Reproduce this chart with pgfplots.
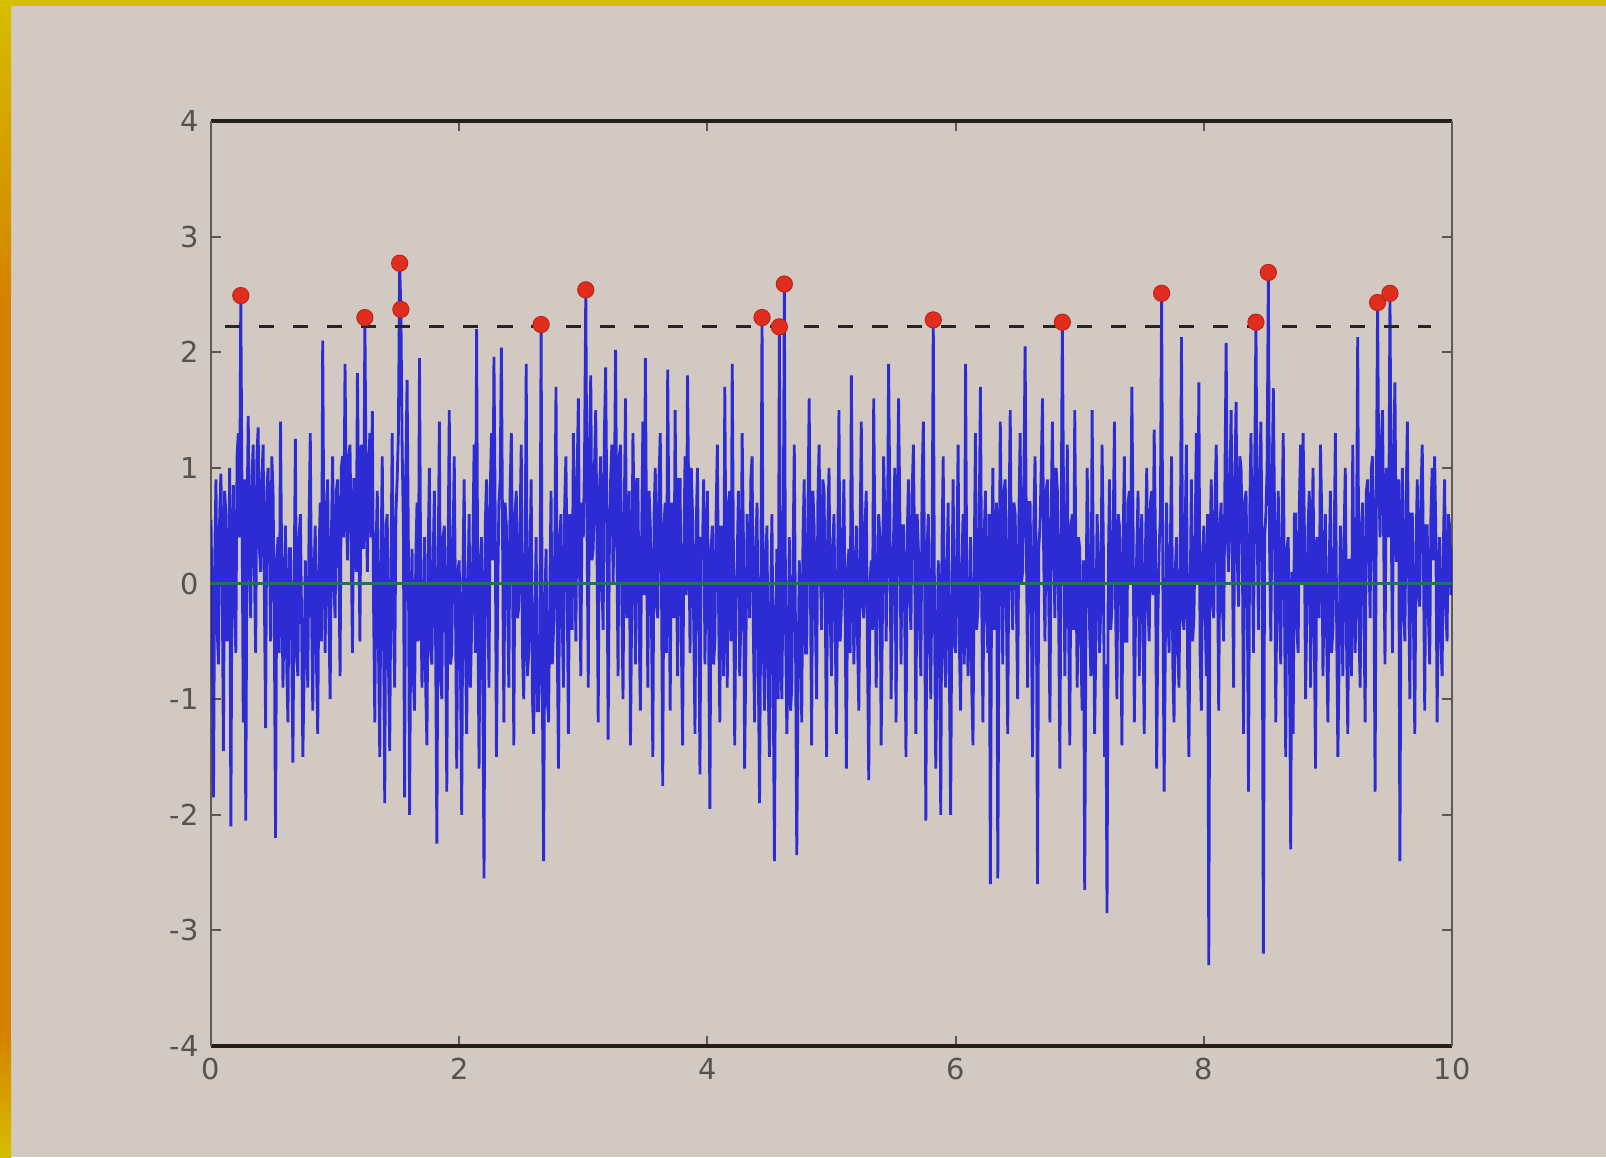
\documentclass[border=0pt]{standalone}
\usepackage{fontspec}
\setmainfont{DejaVu Sans}
\usepackage{pgfplots}
\usepackage{pgfplotstable}
\pgfplotsset{compat=1.18}
\definecolor{bg}{RGB}{209,201,194}
\definecolor{ylw}{RGB}{214,190,0}
\definecolor{org}{RGB}{214,130,0}
\definecolor{framec}{RGB}{35,32,28}
\definecolor{framey}{RGB}{95,90,85}
\definecolor{tickc}{RGB}{90,86,82}
\definecolor{labc}{RGB}{85,82,80}
\definecolor{sigc}{RGB}{22,22,215}
\definecolor{zeroc}{RGB}{30,115,95}
\definecolor{peakc}{RGB}{225,45,30}
\pgfplotstableread[row sep=\\]{
x y\\
0.00 0.55\\ 0.01 -0.3\\ 0.02 -1.85\\ 0.03 0.2\\ 0.04 0.9\\ 0.05 -0.4\\ 0.06 -0.7\\ 0.07 0.6\\ 0.08 0.95\\ 0.09 0.1\\
0.10 -1.45\\ 0.11 0.8\\ 0.12 0.6\\ 0.13 -0.5\\ 0.14 -0.4\\ 0.15 1.0\\ 0.16 -2.1\\ 0.17 0.3\\ 0.18 0.85\\ 0.19 -0.2\\
0.20 -0.6\\ 0.21 1.1\\ 0.22 1.3\\ 0.23 0.4\\ 0.24 2.49\\ 0.25 0.7\\ 0.26 -1.2\\ 0.27 0.9\\ 0.28 -2.05\\ 0.29 0.5\\
0.30 1.45\\ 0.31 0.2\\ 0.32 -0.3\\ 0.33 0.9\\ 0.34 1.2\\ 0.35 0.1\\ 0.36 -0.6\\ 0.37 1.1\\ 0.38 1.35\\ 0.39 0.3\\
0.40 0.1\\ 0.41 0.9\\ 0.42 1.2\\ 0.43 -0.1\\ 0.44 -1.25\\ 0.45 0.8\\ 0.46 1.0\\ 0.47 0.4\\ 0.48 -0.5\\ 0.49 1.1\\
0.50 0.8\\ 0.51 -0.3\\ 0.52 -2.2\\ 0.53 0.2\\ 0.54 0.4\\ 0.55 -0.6\\ 0.56 1.4\\ 0.57 0.1\\ 0.58 -0.9\\ 0.59 -0.1\\
0.60 0.5\\ 0.61 -0.7\\ 0.62 -1.2\\ 0.63 0.3\\ 0.64 0.3\\ 0.65 -0.5\\ 0.66 -1.55\\ 0.67 0.0\\ 0.68 1.25\\ 0.69 -0.6\\
0.70 -0.8\\ 0.71 0.4\\ 0.72 0.6\\ 0.73 -0.3\\ 0.74 -1.5\\ 0.75 -0.8\\ 0.76 0.2\\ 0.77 -0.4\\ 0.78 -0.9\\ 0.79 0.5\\
0.80 1.3\\ 0.81 -0.2\\ 0.82 -1.1\\ 0.83 0.1\\ 0.84 0.5\\ 0.85 -0.7\\ 0.86 -1.3\\ 0.87 0.2\\ 0.88 0.7\\ 0.89 -0.5\\
0.90 2.1\\ 0.91 0.3\\ 0.92 -0.6\\ 0.93 0.6\\ 0.94 0.9\\ 0.95 -0.3\\ 0.96 -1.0\\ 0.97 0.4\\ 0.98 1.1\\ 0.99 0.0\\
1.00 -0.3\\ 1.01 0.8\\ 1.02 0.9\\ 1.03 0.2\\ 1.04 -0.8\\ 1.05 1.0\\ 1.06 1.1\\ 1.07 0.4\\ 1.08 1.9\\ 1.09 0.7\\
1.10 0.2\\ 1.11 1.1\\ 1.12 1.2\\ 1.13 0.3\\ 1.14 -0.6\\ 1.15 0.9\\ 1.16 0.9\\ 1.17 0.1\\ 1.18 1.82\\ 1.19 0.6\\
1.20 -0.5\\ 1.21 1.2\\ 1.22 1.0\\ 1.23 0.3\\ 1.24 2.30\\ 1.25 0.8\\ 1.26 0.1\\ 1.27 1.0\\ 1.28 1.3\\ 1.29 0.4\\
1.30 1.49\\ 1.31 -0.2\\ 1.32 -1.2\\ 1.33 0.3\\ 1.34 0.8\\ 1.35 -0.6\\ 1.36 -1.5\\ 1.37 0.2\\ 1.38 1.1\\ 1.39 -0.4\\
1.40 -1.9\\ 1.41 0.5\\ 1.42 0.6\\ 1.43 -0.7\\ 1.44 -1.45\\ 1.45 0.1\\ 1.46 1.3\\ 1.47 -0.3\\ 1.48 -0.9\\ 1.49 0.6\\
1.50 0.9\\ 1.51 1.3\\ 1.52 2.77\\ 1.53 2.37\\ 1.54 1.2\\ 1.55 0.5\\ 1.56 -1.85\\ 1.57 1.0\\ 1.58 1.76\\ 1.59 0.4\\
1.60 -2.0\\ 1.61 -0.3\\ 1.62 0.3\\ 1.63 -0.8\\ 1.64 -1.1\\ 1.65 0.2\\ 1.66 0.7\\ 1.67 -0.5\\ 1.68 1.95\\ 1.69 0.0\\
1.70 -0.9\\ 1.71 -0.4\\ 1.72 0.4\\ 1.73 -0.9\\ 1.74 -1.4\\ 1.75 0.3\\ 1.76 1.0\\ 1.77 -0.6\\ 1.78 -0.7\\ 1.79 0.2\\
1.80 0.8\\ 1.81 -0.5\\ 1.82 -2.25\\ 1.83 0.1\\ 1.84 1.4\\ 1.85 -0.8\\ 1.86 -1.0\\ 1.87 0.4\\ 1.88 0.5\\ 1.89 -0.3\\
1.90 -1.8\\ 1.91 0.2\\ 1.92 1.5\\ 1.93 -0.7\\ 1.94 -0.6\\ 1.95 0.3\\ 1.96 1.1\\ 1.97 -0.2\\ 1.98 -1.6\\ 1.99 0.1\\
2.00 0.2\\ 2.01 -0.7\\ 2.02 -2.0\\ 2.03 0.1\\ 2.04 0.9\\ 2.05 -0.5\\ 2.06 -1.3\\ 2.07 -0.1\\ 2.08 0.6\\ 2.09 -0.9\\
2.10 -0.4\\ 2.11 0.3\\ 2.12 1.2\\ 2.13 -0.6\\ 2.14 2.2\\ 2.15 -0.2\\ 2.16 -1.6\\ 2.17 0.2\\ 2.18 0.4\\ 2.19 -0.8\\
2.20 -2.55\\ 2.21 0.5\\ 2.22 0.9\\ 2.23 0.0\\ 2.24 -0.9\\ 2.25 0.8\\ 2.26 1.3\\ 2.27 0.2\\ 2.28 1.96\\ 2.29 0.6\\
2.30 -1.5\\ 2.31 -0.1\\ 2.32 0.7\\ 2.33 0.9\\ 2.34 2.04\\ 2.35 0.3\\ 2.36 -1.2\\ 2.37 0.7\\ 2.38 0.5\\ 2.39 -0.2\\
2.40 -0.9\\ 2.41 0.8\\ 2.42 1.3\\ 2.43 0.1\\ 2.44 -1.4\\ 2.45 0.6\\ 2.46 0.8\\ 2.47 -0.3\\ 2.48 -0.2\\ 2.49 0.5\\
2.50 1.2\\ 2.51 -0.6\\ 2.52 -1.0\\ 2.53 0.0\\ 2.54 1.9\\ 2.55 -0.8\\ 2.56 -0.6\\ 2.57 0.2\\ 2.58 0.9\\ 2.59 -1.0\\
2.60 -1.3\\ 2.61 -0.3\\ 2.62 0.4\\ 2.63 -1.1\\ 2.64 -1.1\\ 2.65 -0.5\\ 2.66 2.24\\ 2.67 -0.9\\ 2.68 -2.4\\ 2.69 -0.2\\
2.70 0.3\\ 2.71 -1.0\\ 2.72 -1.2\\ 2.73 -0.1\\ 2.74 0.8\\ 2.75 -0.7\\ 2.76 -0.4\\ 2.77 0.3\\ 2.78 1.70\\ 2.79 -0.5\\
2.80 -1.6\\ 2.81 0.4\\ 2.82 0.6\\ 2.83 -0.3\\ 2.84 -0.9\\ 2.85 0.7\\ 2.86 1.1\\ 2.87 0.0\\ 2.88 -1.3\\ 2.89 0.6\\
2.90 0.2\\ 2.91 -0.4\\ 2.92 1.3\\ 2.93 0.5\\ 2.94 -0.5\\ 2.95 0.9\\ 2.96 1.6\\ 2.97 0.1\\ 2.98 -0.8\\ 2.99 0.7\\
3.00 0.4\\ 3.01 1.1\\ 3.02 2.54\\ 3.03 0.5\\ 3.04 -0.9\\ 3.05 1.2\\ 3.06 1.8\\ 3.07 0.2\\ 3.08 0.3\\ 3.09 1.0\\
3.10 1.5\\ 3.11 0.4\\ 3.12 -1.2\\ 3.13 0.8\\ 3.14 1.1\\ 3.15 0.0\\ 3.16 -0.4\\ 3.17 1.3\\ 3.18 1.87\\ 3.19 0.6\\
3.20 -1.35\\ 3.21 0.3\\ 3.22 0.9\\ 3.23 1.2\\ 3.24 0.0\\ 3.25 0.7\\ 3.26 2.02\\ 3.27 0.4\\ 3.28 -0.8\\ 3.29 1.1\\
3.30 1.2\\ 3.31 -0.1\\ 3.32 -1.0\\ 3.33 0.6\\ 3.34 1.6\\ 3.35 -0.3\\ 3.36 0.2\\ 3.37 0.8\\ 3.38 -1.4\\ 3.39 -0.2\\
3.40 1.3\\ 3.41 0.5\\ 3.42 -0.7\\ 3.43 0.9\\ 3.44 0.9\\ 3.45 -0.4\\ 3.46 -1.1\\ 3.47 0.4\\ 3.48 1.4\\ 3.49 -0.1\\
3.50 1.95\\ 3.51 0.3\\ 3.52 -0.9\\ 3.53 0.8\\ 3.54 0.5\\ 3.55 -0.4\\ 3.56 -1.5\\ 3.57 0.6\\ 3.58 1.0\\ 3.59 -0.2\\
3.60 -0.3\\ 3.61 0.9\\ 3.62 1.3\\ 3.63 0.0\\ 3.64 -1.75\\ 3.65 0.5\\ 3.66 0.7\\ 3.67 -0.6\\ 3.68 1.85\\ 3.69 0.4\\
3.70 -1.1\\ 3.71 0.7\\ 3.72 0.4\\ 3.73 -0.3\\ 3.74 1.5\\ 3.75 0.2\\ 3.76 -0.8\\ 3.77 0.9\\ 3.78 0.9\\ 3.79 -0.5\\
3.80 -1.4\\ 3.81 0.3\\ 3.82 1.1\\ 3.83 -0.1\\ 3.84 1.8\\ 3.85 0.6\\ 3.86 -0.6\\ 3.87 1.0\\ 3.88 0.6\\ 3.89 -0.4\\
3.90 -1.3\\ 3.91 0.5\\ 3.92 1.0\\ 3.93 -0.2\\ 3.94 -1.65\\ 3.95 0.4\\ 3.96 0.3\\ 3.97 0.9\\ 3.98 -0.7\\ 3.99 0.1\\
4.00 0.8\\ 4.01 -0.4\\ 4.02 -1.95\\ 4.03 0.3\\ 4.04 0.5\\ 4.05 -0.7\\ 4.06 -0.5\\ 4.07 0.6\\ 4.08 1.2\\ 4.09 -0.2\\
4.10 -1.2\\ 4.11 0.5\\ 4.12 0.4\\ 4.13 -0.8\\ 4.14 1.7\\ 4.15 0.1\\ 4.16 -0.9\\ 4.17 0.7\\ 4.18 0.8\\ 4.19 -0.5\\
4.20 1.9\\ 4.21 0.2\\ 4.22 -1.4\\ 4.23 -0.1\\ 4.24 0.2\\ 4.25 0.8\\ 4.26 -0.8\\ 4.27 -0.3\\ 4.28 1.3\\ 4.29 0.4\\
4.30 -1.6\\ 4.31 -0.6\\ 4.32 0.6\\ 4.33 0.2\\ 4.34 -0.3\\ 4.35 0.9\\ 4.36 1.1\\ 4.37 -0.4\\ 4.38 -1.2\\ 4.39 0.3\\
4.40 0.7\\ 4.41 -0.7\\ 4.42 -1.9\\ 4.43 -0.2\\ 4.44 2.30\\ 4.45 -0.5\\ 4.46 -1.1\\ 4.47 0.2\\ 4.48 0.5\\ 4.49 -0.9\\
4.50 -1.5\\ 4.51 -0.1\\ 4.52 0.6\\ 4.53 -0.8\\ 4.54 -2.4\\ 4.55 -0.3\\ 4.56 0.3\\ 4.57 -1.0\\ 4.58 2.22\\ 4.59 -0.6\\
4.60 -1.0\\ 4.61 0.1\\ 4.62 2.59\\ 4.63 -0.4\\ 4.64 -1.3\\ 4.65 -0.7\\ 4.66 0.4\\ 4.67 -1.1\\ 4.68 -0.9\\ 4.69 0.2\\
4.70 1.2\\ 4.71 -0.5\\ 4.72 -2.35\\ 4.73 -0.9\\ 4.74 0.2\\ 4.75 -0.2\\ 4.76 -1.2\\ 4.77 0.4\\ 4.78 0.9\\ 4.79 -0.6\\
4.80 -0.6\\ 4.81 0.6\\ 4.82 1.6\\ 4.83 0.0\\ 4.84 -1.4\\ 4.85 0.8\\ 4.86 0.5\\ 4.87 -0.3\\ 4.88 -1.0\\ 4.89 0.7\\
4.90 1.2\\ 4.91 0.1\\ 4.92 -0.4\\ 4.93 0.9\\ 4.94 0.8\\ 4.95 -0.2\\ 4.96 -1.5\\ 4.97 0.5\\ 4.98 1.0\\ 4.99 -0.3\\
5.00 -0.8\\ 5.01 0.3\\ 5.02 0.6\\ 5.03 -0.4\\ 5.04 -1.3\\ 5.05 0.2\\ 5.06 1.5\\ 5.07 -0.5\\ 5.08 -0.2\\ 5.09 0.4\\
5.10 0.9\\ 5.11 -0.3\\ 5.12 -1.6\\ 5.13 0.1\\ 5.14 0.3\\ 5.15 -0.6\\ 5.16 1.8\\ 5.17 0.3\\ 5.18 -0.7\\ 5.19 -0.1\\
5.20 0.5\\ 5.21 -0.5\\ 5.22 -1.1\\ 5.23 0.4\\ 5.24 1.4\\ 5.25 -0.2\\ 5.26 -0.3\\ 5.27 0.5\\ 5.28 0.8\\ 5.29 -0.6\\
5.30 -1.7\\ 5.31 0.0\\ 5.32 0.2\\ 5.33 -0.4\\ 5.34 1.6\\ 5.35 0.3\\ 5.36 -0.9\\ 5.37 -0.2\\ 5.38 0.6\\ 5.39 0.4\\
5.40 -1.4\\ 5.41 -0.3\\ 5.42 1.1\\ 5.43 0.6\\ 5.44 -0.5\\ 5.45 0.2\\ 5.46 1.9\\ 5.47 0.7\\ 5.48 -1.0\\ 5.49 -0.2\\
5.50 0.4\\ 5.51 1.0\\ 5.52 -1.2\\ 5.53 0.3\\ 5.54 1.6\\ 5.55 0.7\\ 5.56 -0.7\\ 5.57 0.5\\ 5.58 0.5\\ 5.59 -0.3\\
5.60 -1.5\\ 5.61 0.4\\ 5.62 0.9\\ 5.63 -0.1\\ 5.64 -0.4\\ 5.65 0.8\\ 5.66 1.2\\ 5.67 0.2\\ 5.68 -1.3\\ 5.69 0.6\\
5.70 0.3\\ 5.71 -0.4\\ 5.72 -0.8\\ 5.73 0.9\\ 5.74 1.4\\ 5.75 0.1\\ 5.76 -2.05\\ 5.77 0.3\\ 5.78 0.6\\ 5.79 -0.5\\
5.80 -1.0\\ 5.81 0.2\\ 5.82 2.28\\ 5.83 -0.3\\ 5.84 -1.6\\ 5.85 -0.7\\ 5.86 0.2\\ 5.87 -0.2\\ 5.88 -2.0\\ 5.89 0.3\\
5.90 1.1\\ 5.91 -0.6\\ 5.92 -0.9\\ 5.93 0.1\\ 5.94 0.7\\ 5.95 -0.8\\ 5.96 -2.0\\ 5.97 -0.1\\ 5.98 0.9\\ 5.99 -0.5\\
6.00 -0.6\\ 6.01 0.2\\ 6.02 1.2\\ 6.03 -0.5\\ 6.04 -1.1\\ 6.05 0.1\\ 6.06 0.6\\ 6.07 -0.7\\ 6.08 1.9\\ 6.09 0.0\\
6.10 -0.8\\ 6.11 -0.3\\ 6.12 0.4\\ 6.13 -0.9\\ 6.14 -1.4\\ 6.15 0.2\\ 6.16 1.3\\ 6.17 -0.4\\ 6.18 -0.2\\ 6.19 0.5\\
6.20 1.7\\ 6.21 -0.1\\ 6.22 -1.2\\ 6.23 0.4\\ 6.24 0.8\\ 6.25 -0.3\\ 6.26 -0.6\\ 6.27 0.6\\ 6.28 -2.6\\ 6.29 0.0\\
6.30 1.0\\ 6.31 -0.4\\ 6.32 0.2\\ 6.33 0.7\\ 6.34 -2.55\\ 6.35 -0.2\\ 6.36 1.4\\ 6.37 0.3\\ 6.38 -0.7\\ 6.39 0.8\\
6.40 0.9\\ 6.41 -0.3\\ 6.42 -1.3\\ 6.43 0.5\\ 6.44 1.5\\ 6.45 0.0\\ 6.46 -0.4\\ 6.47 0.7\\ 6.48 0.6\\ 6.49 -0.2\\
6.50 -1.0\\ 6.51 0.6\\ 6.52 1.3\\ 6.53 0.0\\ 6.54 0.1\\ 6.55 0.9\\ 6.56 2.05\\ 6.57 0.4\\ 6.58 -0.9\\ 6.59 0.7\\
6.60 0.7\\ 6.61 -0.2\\ 6.62 -1.5\\ 6.63 0.5\\ 6.64 1.1\\ 6.65 0.1\\ 6.66 -2.6\\ 6.67 0.3\\ 6.68 0.5\\ 6.69 1.0\\
6.70 1.6\\ 6.71 0.2\\ 6.72 -0.5\\ 6.73 0.8\\ 6.74 0.9\\ 6.75 -0.1\\ 6.76 -1.2\\ 6.77 0.6\\ 6.78 1.4\\ 6.79 0.3\\
6.80 -0.3\\ 6.81 1.0\\ 6.82 0.8\\ 6.83 -0.2\\ 6.84 -1.6\\ 6.85 0.4\\ 6.86 2.26\\ 6.87 0.7\\ 6.88 -0.8\\ 6.89 0.2\\
6.90 1.2\\ 6.91 -0.3\\ 6.92 -1.4\\ 6.93 0.5\\ 6.94 0.6\\ 6.95 -0.4\\ 6.96 1.5\\ 6.97 0.1\\ 6.98 -0.9\\ 6.99 0.4\\
7.00 0.3\\ 7.01 -0.6\\ 7.02 -1.1\\ 7.03 0.2\\ 7.04 -2.65\\ 7.05 -0.4\\ 7.06 1.0\\ 7.07 0.3\\ 7.08 -0.4\\ 7.09 -0.8\\
7.10 1.5\\ 7.11 0.1\\ 7.12 -1.3\\ 7.13 -0.5\\ 7.14 0.6\\ 7.15 0.2\\ 7.16 -0.6\\ 7.17 -0.2\\ 7.18 1.2\\ 7.19 0.4\\
7.20 -1.5\\ 7.21 -0.7\\ 7.22 -2.85\\ 7.23 0.1\\ 7.24 0.9\\ 7.25 -0.4\\ 7.26 -0.2\\ 7.27 0.5\\ 7.28 1.4\\ 7.29 -0.3\\
7.30 -1.0\\ 7.31 0.6\\ 7.32 0.5\\ 7.33 -0.2\\ 7.34 -1.4\\ 7.35 0.4\\ 7.36 1.1\\ 7.37 -0.5\\ 7.38 -0.5\\ 7.39 0.7\\
7.40 0.8\\ 7.41 0.0\\ 7.42 1.7\\ 7.43 0.5\\ 7.44 -1.2\\ 7.45 -0.3\\ 7.46 0.3\\ 7.47 0.8\\ 7.48 -0.8\\ 7.49 0.2\\
7.50 0.6\\ 7.51 -0.4\\ 7.52 -1.3\\ 7.53 0.3\\ 7.54 1.0\\ 7.55 -0.2\\ 7.56 -0.5\\ 7.57 0.7\\ 7.58 0.8\\ 7.59 -0.1\\
7.60 1.33\\ 7.61 0.4\\ 7.62 -1.6\\ 7.63 -0.3\\ 7.64 0.3\\ 7.65 0.6\\ 7.66 2.51\\ 7.67 0.0\\ 7.68 -1.8\\ 7.69 -0.5\\
7.70 0.7\\ 7.71 -0.2\\ 7.72 -0.6\\ 7.73 0.3\\ 7.74 1.1\\ 7.75 -0.7\\ 7.76 -1.2\\ 7.77 0.1\\ 7.78 0.4\\ 7.79 -0.6\\
7.80 -0.9\\ 7.81 0.2\\ 7.82 2.13\\ 7.83 -0.3\\ 7.84 -0.4\\ 7.85 0.5\\ 7.86 1.2\\ 7.87 -0.8\\ 7.88 -1.5\\ 7.89 -0.1\\
7.90 0.9\\ 7.91 -0.5\\ 7.92 -0.3\\ 7.93 0.4\\ 7.94 1.3\\ 7.95 0.0\\ 7.96 1.74\\ 7.97 -0.6\\ 7.98 -1.1\\ 7.99 0.2\\
8.00 0.5\\ 8.01 -0.2\\ 8.02 -0.8\\ 8.03 0.6\\ 8.04 -3.3\\ 8.05 0.3\\ 8.06 0.9\\ 8.07 -0.1\\ 8.08 -0.3\\ 8.09 0.7\\
8.10 1.2\\ 8.11 0.2\\ 8.12 -1.1\\ 8.13 0.5\\ 8.14 0.7\\ 8.15 -0.2\\ 8.16 -0.5\\ 8.17 0.9\\ 8.18 2.08\\ 8.19 0.4\\
8.20 0.1\\ 8.21 0.8\\ 8.22 1.5\\ 8.23 0.3\\ 8.24 -0.9\\ 8.25 0.9\\ 8.26 1.57\\ 8.27 0.2\\ 8.28 -0.2\\ 8.29 1.1\\
8.30 1.0\\ 8.31 0.4\\ 8.32 -1.3\\ 8.33 0.7\\ 8.34 0.8\\ 8.35 0.0\\ 8.36 -1.8\\ 8.37 0.6\\ 8.38 1.3\\ 8.39 0.3\\
8.40 -0.6\\ 8.41 1.0\\ 8.42 2.26\\ 8.43 0.5\\ 8.44 -0.4\\ 8.45 0.9\\ 8.46 1.4\\ 8.47 0.2\\ 8.48 -3.2\\ 8.49 0.4\\
8.50 0.6\\ 8.51 1.0\\ 8.52 2.69\\ 8.53 0.3\\ 8.54 -0.5\\ 8.55 0.8\\ 8.56 1.69\\ 8.57 0.6\\ 8.58 -1.2\\ 8.59 0.2\\
8.60 0.8\\ 8.61 -0.3\\ 8.62 -0.7\\ 8.63 0.5\\ 8.64 1.3\\ 8.65 -0.2\\ 8.66 -1.5\\ 8.67 0.3\\ 8.68 0.4\\ 8.69 -0.5\\
8.70 -2.3\\ 8.71 0.1\\ 8.72 -1.3\\ 8.73 0.6\\ 8.74 0.6\\ 8.75 -0.4\\ 8.76 -0.6\\ 8.77 0.7\\ 8.78 1.2\\ 8.79 0.0\\
8.80 1.3\\ 8.81 0.5\\ 8.82 -1.0\\ 8.83 -0.2\\ 8.84 0.5\\ 8.85 0.8\\ 8.86 -0.9\\ 8.87 0.1\\ 8.88 1.0\\ 8.89 -0.4\\
8.90 -1.6\\ 8.91 0.4\\ 8.92 0.3\\ 8.93 -0.3\\ 8.94 1.2\\ 8.95 0.6\\ 8.96 -0.8\\ 8.97 0.0\\ 8.98 0.6\\ 8.99 -0.5\\
9.00 -1.2\\ 9.01 0.1\\ 9.02 0.8\\ 9.03 -0.6\\ 9.04 -0.4\\ 9.05 0.3\\ 9.06 1.3\\ 9.07 -0.3\\ 9.08 -1.5\\ 9.09 -0.7\\
9.10 0.5\\ 9.11 0.0\\ 9.12 -0.8\\ 9.13 0.4\\ 9.14 1.0\\ 9.15 -0.5\\ 9.16 -1.3\\ 9.17 0.2\\ 9.18 0.2\\ 9.19 -0.8\\
9.20 1.2\\ 9.21 -0.1\\ 9.22 -0.6\\ 9.23 0.3\\ 9.24 2.13\\ 9.25 -0.4\\ 9.26 -0.9\\ 9.27 0.5\\ 9.28 0.7\\ 9.29 -0.2\\
9.30 -1.2\\ 9.31 0.8\\ 9.32 0.9\\ 9.33 0.3\\ 9.34 -0.3\\ 9.35 1.0\\ 9.36 1.1\\ 9.37 0.2\\ 9.38 -1.8\\ 9.39 0.7\\
9.40 2.43\\ 9.41 0.9\\ 9.42 0.4\\ 9.43 1.2\\ 9.44 1.5\\ 9.45 0.3\\ 9.46 -0.7\\ 9.47 1.0\\ 9.48 0.9\\ 9.49 0.4\\
9.50 2.51\\ 9.51 0.6\\ 9.52 -0.6\\ 9.53 1.1\\ 9.54 1.74\\ 9.55 0.2\\ 9.56 0.2\\ 9.57 0.9\\ 9.58 -2.4\\ 9.59 0.3\\
9.60 1.0\\ 9.61 -0.2\\ 9.62 -0.5\\ 9.63 0.7\\ 9.64 1.4\\ 9.65 0.1\\ 9.66 -1.0\\ 9.67 0.6\\ 9.68 0.6\\ 9.69 -0.4\\
9.70 -1.3\\ 9.71 0.3\\ 9.72 0.9\\ 9.73 -0.1\\ 9.74 -0.2\\ 9.75 0.8\\ 9.76 1.2\\ 9.77 0.2\\ 9.78 -1.1\\ 9.79 0.5\\
9.80 0.5\\ 9.81 -0.3\\ 9.82 -0.7\\ 9.83 0.6\\ 9.84 1.0\\ 9.85 0.2\\ 9.86 1.1\\ 9.87 0.4\\ 9.88 -1.2\\ 9.89 0.1\\
9.90 0.4\\ 9.91 -0.5\\ 9.92 -0.8\\ 9.93 0.3\\ 9.94 0.9\\ 9.95 -0.2\\ 9.96 -0.5\\ 9.97 0.6\\ 9.98 0.5\\ 9.99 -0.1\\
10.00 0.3\\
}\sig
\begin{document}
\begin{tikzpicture}
\fill[bg] (0,0) rectangle (16.06cm,11.57cm);
\useasboundingbox (0,0) rectangle (16.06cm,11.57cm);
\fill[ylw] (0,11.51cm) rectangle (16.06cm,11.57cm);
\shade[top color=ylw, bottom color=org] (0,8.6cm) rectangle (0.11cm,11.57cm);
\fill[org] (0,1.2cm) rectangle (0.11cm,8.61cm);
\shade[top color=org, bottom color=ylw] (0,0) rectangle (0.11cm,1.21cm);
\begin{axis}[
  at={(2.11cm,1.11cm)}, anchor=south west,
  scale only axis, width=12.41cm, height=9.25cm,
  xmin=0, xmax=10, ymin=-4, ymax=4,
  xtick={0,2,4,6,8,10}, xticklabels={0,2,4,6,8,10},
  ytick={-4,-3,-2,-1,0,1,2,3,4},
  yticklabels={-4,-3,-2,-1,0,1,2,3,4},
  tick align=inside, major tick length=0.1cm,
  tick style={draw=tickc, line width=0.6pt},
  separate axis lines,
  every outer x axis line/.append style={draw=framec, line width=0.9pt},
  every outer y axis line/.append style={draw=framey, line width=0.8pt},
  ticklabel style={font=\fontsize{8.2}{10}\selectfont, text=labc},
  clip=true,
]
\addplot[sigc, line width=0.8pt, opacity=0.88, mark=none] table {\sig};
\addplot[zeroc, line width=0.9pt, mark=none] coordinates {(0,0) (10,0)};
\addplot[black!85, line width=0.8pt, dash pattern=on 4.3pt off 5.4pt, mark=none] coordinates {(0.11,2.22) (9.83,2.22)};
\addplot[only marks, mark=*, mark size=2.3pt, mark options={fill=peakc, draw=peakc!85!black, line width=0.3pt}] coordinates {
(0.24,2.49) (1.24,2.30) (1.52,2.77) (1.53,2.37) (2.66,2.24) (3.02,2.54)
(4.44,2.30) (4.58,2.22) (4.62,2.59) (5.82,2.28) (6.86,2.26) (7.66,2.51)
(8.42,2.26) (8.52,2.69) (9.40,2.43) (9.50,2.51)};
\end{axis}
\end{tikzpicture}
\end{document}
